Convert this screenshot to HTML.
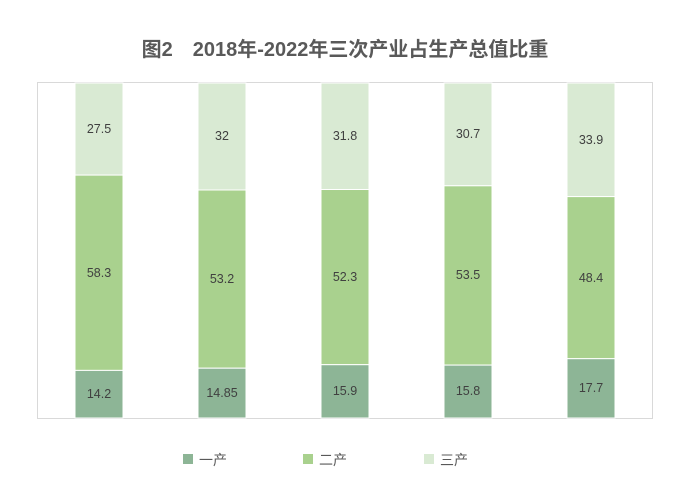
<!DOCTYPE html>
<html><head><meta charset="utf-8"><style>
body{margin:0;background:#fff;width:687px;height:481px;overflow:hidden}
svg{display:block;font-family:"Liberation Sans","Noto Sans CJK SC",sans-serif}
</style></head><body>
<svg width="687" height="481" viewBox="0 0 687 481">
<text x="345" y="56" text-anchor="middle" font-size="20" font-weight="bold" fill="#595959">图2　2018年-2022年三次产业占生产总值比重</text>
<rect x="37.5" y="82.5" width="615" height="336" fill="none" stroke="#d9d9d9" stroke-width="1"/>
<g stroke="#fff" stroke-width="1">
<rect x="75" y="83" width="48" height="92.1" fill="#d9ead3"/>
<rect x="75" y="175.1" width="48" height="195.3" fill="#a9d18e"/>
<rect x="75" y="370.4" width="48" height="47.6" fill="#8db596"/>
<rect x="198" y="83" width="48" height="107" fill="#d9ead3"/>
<rect x="198" y="190" width="48" height="178.2" fill="#a9d18e"/>
<rect x="198" y="368.2" width="48" height="49.8" fill="#8db596"/>
<rect x="321" y="83" width="48" height="106.5" fill="#d9ead3"/>
<rect x="321" y="189.5" width="48" height="175.2" fill="#a9d18e"/>
<rect x="321" y="364.7" width="48" height="53.3" fill="#8db596"/>
<rect x="444" y="83" width="48" height="102.8" fill="#d9ead3"/>
<rect x="444" y="185.8" width="48" height="179.3" fill="#a9d18e"/>
<rect x="444" y="365.1" width="48" height="52.9" fill="#8db596"/>
<rect x="567" y="83" width="48" height="113.6" fill="#d9ead3"/>
<rect x="567" y="196.6" width="48" height="162.1" fill="#a9d18e"/>
<rect x="567" y="358.7" width="48" height="59.3" fill="#8db596"/>
</g>
<g font-size="12.5" fill="#404040" text-anchor="middle">
<text x="99" y="133">27.5</text><text x="99" y="277">58.3</text><text x="99" y="398">14.2</text>
<text x="222" y="140">32</text><text x="222" y="283">53.2</text><text x="222" y="397">14.85</text>
<text x="345" y="140">31.8</text><text x="345" y="281">52.3</text><text x="345" y="395">15.9</text>
<text x="468" y="138">30.7</text><text x="468" y="279">53.5</text><text x="468" y="395">15.8</text>
<text x="591" y="144">33.9</text><text x="591" y="282">48.4</text><text x="591" y="392">17.7</text>
</g>
<g font-size="14" fill="#595959">
<rect x="183" y="454" width="10" height="10" fill="#8db596"/><text x="199" y="465">一产</text>
<rect x="303" y="454" width="10" height="10" fill="#a9d18e"/><text x="319" y="465">二产</text>
<rect x="424" y="454" width="10" height="10" fill="#d9ead3"/><text x="440" y="465">三产</text>
</g>
</svg>
</body></html>
